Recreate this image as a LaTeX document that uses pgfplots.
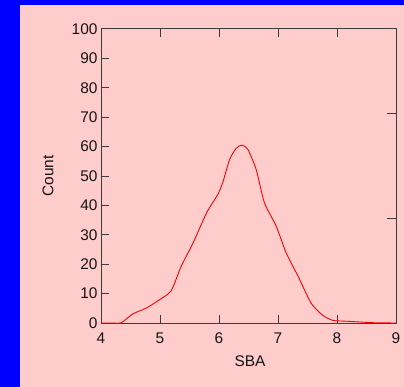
\documentclass[border=0pt]{standalone}
\usepackage{pgfplots}
\pgfplotsset{compat=1.18}
\usepackage{fontspec}
\setmainfont{Liberation Sans}
\definecolor{bgblue}{RGB}{0,0,255}
\definecolor{bgpink}{RGB}{255,204,204}
\definecolor{axgray}{RGB}{60,60,60}
\definecolor{txt}{RGB}{20,20,20}
\begin{document}
\begin{tikzpicture}
\fill[bgblue] (-101bp,-64bp) rectangle (303bp,323bp);
\fill[bgpink] (-81bp,-64bp) rectangle (303bp,318bp);
\begin{axis}[
  scale only axis, width=295bp, height=294bp,
  xmin=4, xmax=9, ymin=0, ymax=100,
  xtick={4,5,6,7,8,9}, ytick={0,10,...,100},
  ytick pos=left,
  tick align=inside, major tick length=8bp,
  axis line style={axgray, line width=1pt},
  every tick/.style={axgray, line width=1pt},
  /pgf/number format/assume math mode=true,
  tick label style={font=\fontsize{15.5}{18}\selectfont, text=txt},
  xticklabel style={yshift=-6bp},
  xlabel={SBA}, ylabel={Count},
  every axis x label/.style={at={(axis description cs:0.505,0)}, yshift=-38bp, anchor=center, font=\fontsize{15.5}{18}\selectfont, text=txt},
  every axis y label/.style={at={(axis description cs:0,0.5)}, xshift=-53bp, rotate=90, anchor=center, font=\fontsize{15.5}{18}\selectfont, text=txt},
]
\addplot[red, line width=0.9pt, smooth, tension=0.4] coordinates {
(4.0,0) (4.2,0) (4.345,0.1) (4.54,3.1) (4.77,5.1) (4.99,7.9) (5.19,11)
(5.36,19.3) (5.56,27.2) (5.79,37.5) (5.98,43.7) (6.07,48.2) (6.18,55.6)
(6.29,59.4) (6.39,60.5) (6.49,59) (6.63,52.2) (6.77,40.9) (6.97,32.9)
(7.14,23.8) (7.34,15.9) (7.56,6.8) (7.76,2.6) (7.93,0.9) (8.16,0.6)
(8.38,0.35) (8.61,0.1) (9.0,0)
};
\end{axis}
\begin{axis}[
  scale only axis, width=295bp, height=294bp,
  xmin=4, xmax=9, ymin=0, ymax=100,
  hide x axis, axis y line*=right,
  ytick={35.4,71.4}, yticklabels={},
  tick align=inside, major tick length=9bp,
  axis line style={axgray, line width=1pt, -},
  every tick/.style={axgray, line width=1pt},
]
\end{axis}
\pgfresetboundingbox
\useasboundingbox (-101bp,-64bp) rectangle (303bp,323bp);
\end{tikzpicture}
\end{document}
